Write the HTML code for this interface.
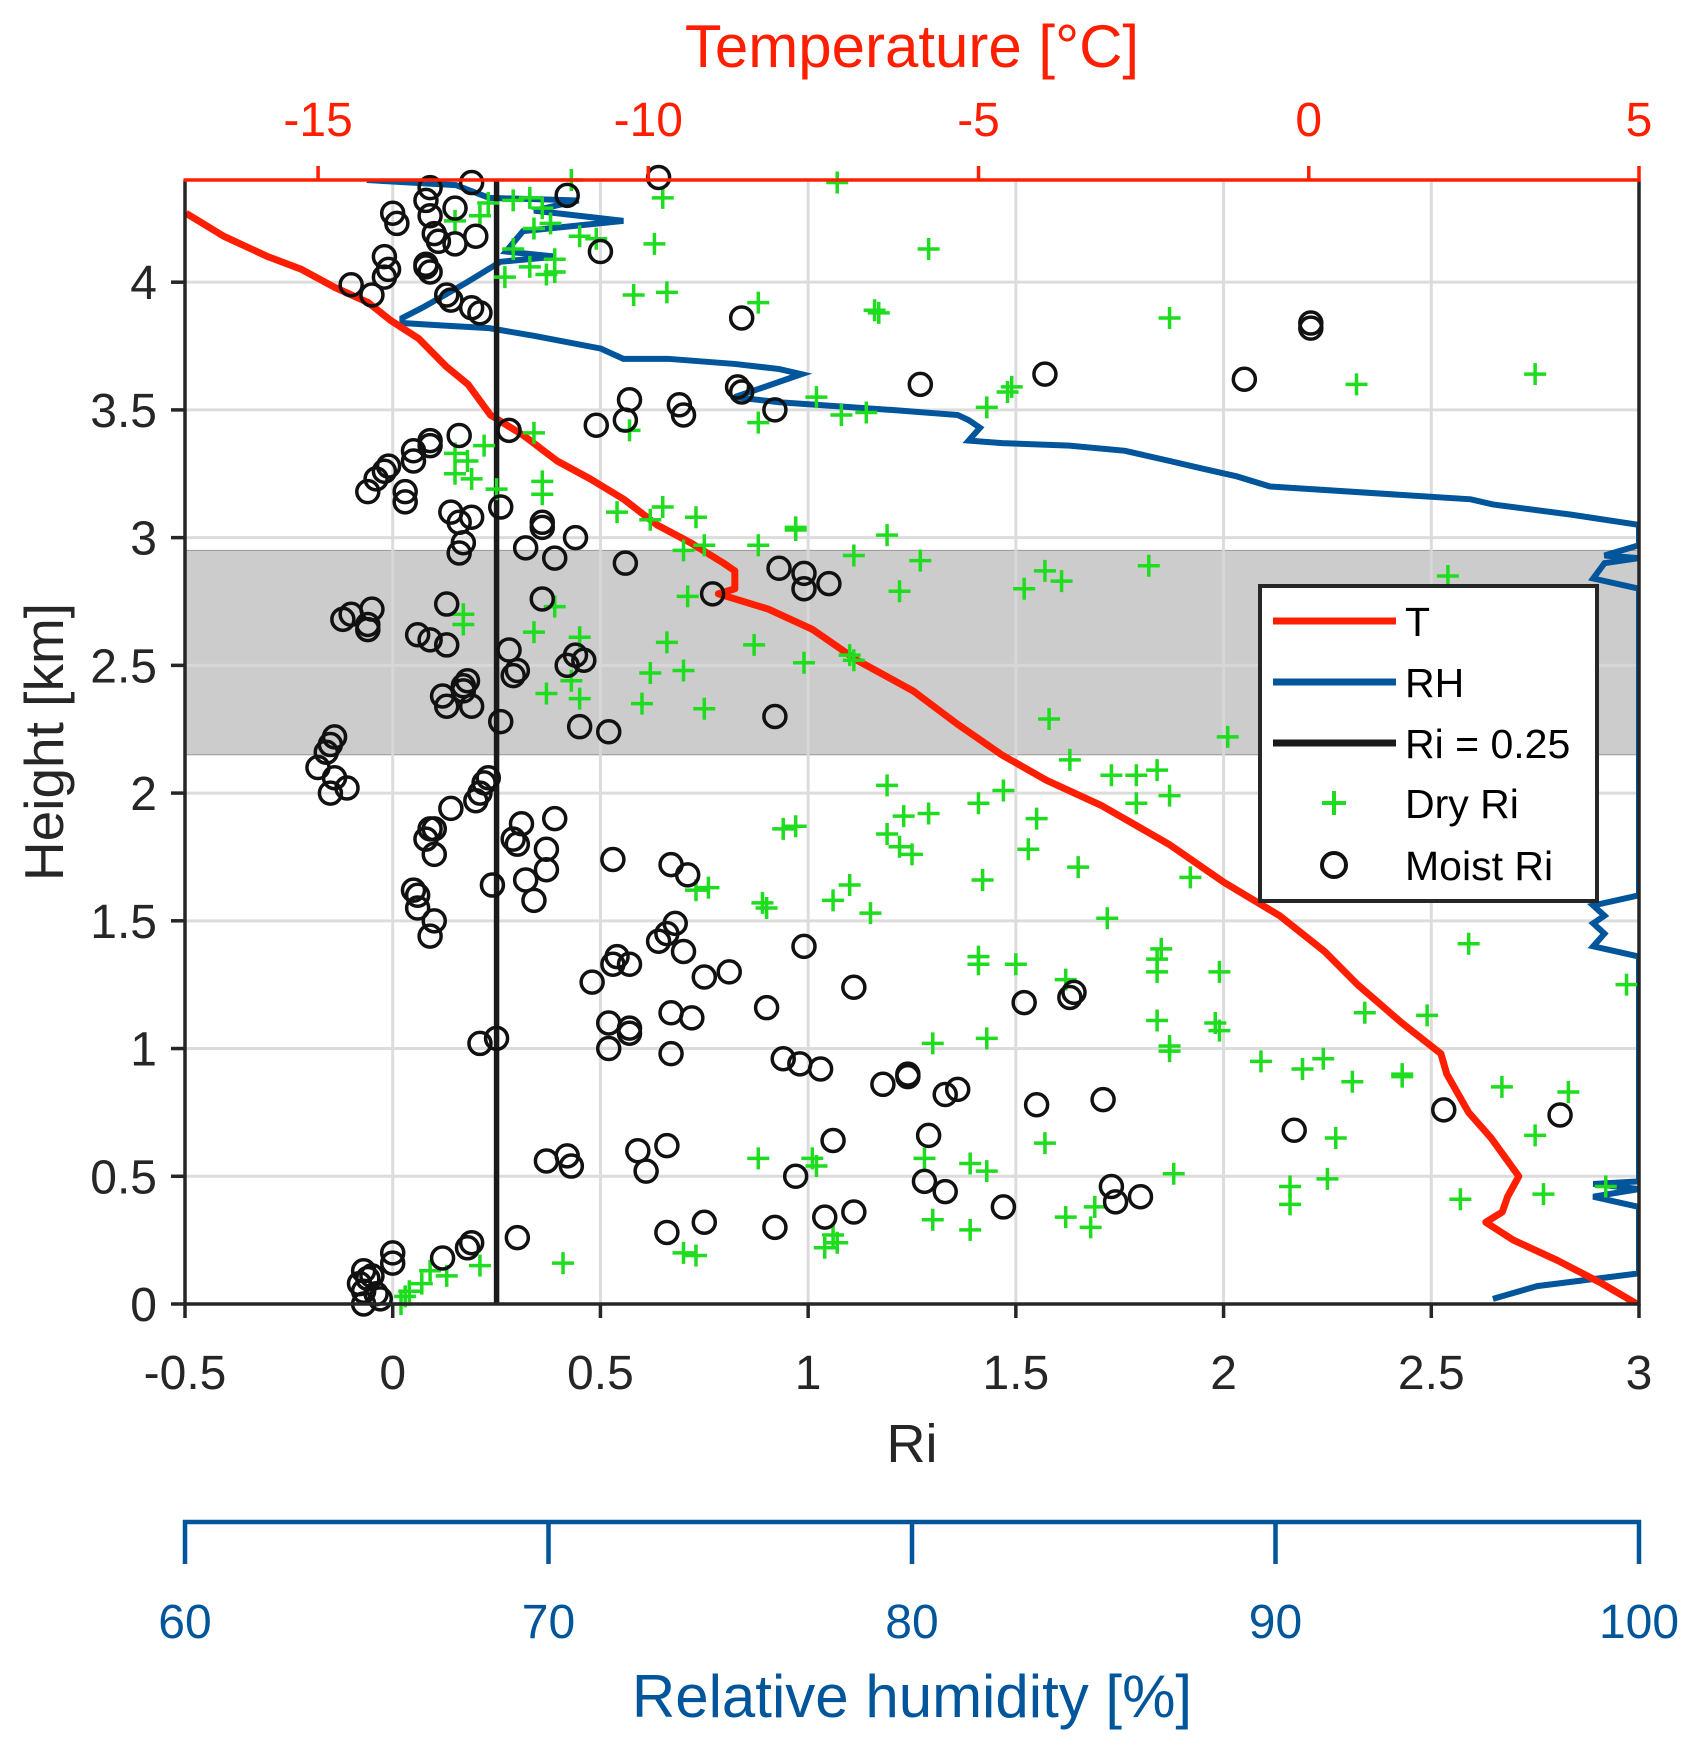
<!DOCTYPE html>
<html><head><meta charset="utf-8"><style>
html,body{margin:0;padding:0;background:#fff;}
svg{display:block;font-family:"Liberation Sans",Arial,sans-serif;}
</style></head><body>
<svg id="chart" width="1700" height="1747" viewBox="0 0 1700 1747" xmlns="http://www.w3.org/2000/svg">
<g id="bg"></g>
</svg>
<script>
// ---- data ----
const riTicks=[-0.5,0,0.5,1,1.5,2,2.5,3];
const riTickLabels=["-0.5","0","0.5","1","1.5","2","2.5","3"];
const hTicks=[0,0.5,1,1.5,2,2.5,3,3.5,4];
const hTickLabels=["0","0.5","1","1.5","2","2.5","3","3.5","4"];
const tTicks=[-15,-10,-5,0,5];
const tTickLabels=["-15","-10","-5","0","5"];
const rhTicks=[60,70,80,90,100];
const rhTickLabels=["60","70","80","90","100"];
const shadeBand=[2.15,2.95];
const riCritical=0.25;
const tempVals=[-17.0,-16.43,-15.76,-15.25,-14.75,-14.24,-13.9,-13.48,-13.06,-12.73,-12.39,-11.89,-11.38,-10.88,-10.37,-9.87,-9.36,-8.86,-8.69,-8.69,-8.94,-8.18,-7.51,-6.84,-5.99,-5.32,-4.65,-3.97,-3.13,-2.12,-1.28,-0.44,0.24,0.74,1.41,2.0,2.09,2.42,2.76,3.18,3.01,2.93,2.68,3.1,3.77,4.44,4.97];
const tempHeights=[4.27,4.18,4.1,4.05,3.98,3.92,3.85,3.78,3.67,3.6,3.48,3.4,3.3,3.23,3.15,3.05,2.98,2.9,2.87,2.8,2.78,2.72,2.64,2.52,2.4,2.27,2.15,2.05,1.95,1.8,1.65,1.52,1.38,1.25,1.1,0.98,0.9,0.75,0.65,0.5,0.42,0.36,0.32,0.25,0.17,0.08,0];
const rhVals=[65.0,67.45,68.37,70.83,69.6,72.06,69.3,68.83,70.2,68.68,67.76,67.15,66.53,65.98,65.98,67.15,68.37,69.6,71.44,72.06,73.28,75.12,76.35,76.96,75.74,75.12,76.35,79.42,81.26,81.56,81.87,81.56,82.48,84.33,85.86,87.09,88.0,88.93,89.85,95.37,95.98,98.13,100,100,99.05,100,99.05,98.74,100,100,98.74,99.05,98.74,99.05,98.74,100,100,98.74,100,98.74,100,100,97.2,95.98];
const rhHeights=[4.40,4.38,4.33,4.32,4.28,4.24,4.20,4.12,4.10,4.08,4.00,3.95,3.90,3.86,3.84,3.83,3.82,3.79,3.74,3.70,3.70,3.68,3.66,3.64,3.58,3.55,3.53,3.50,3.48,3.46,3.43,3.38,3.37,3.36,3.34,3.30,3.27,3.24,3.20,3.15,3.13,3.09,3.05,2.97,2.93,2.92,2.90,2.84,2.80,1.60,1.56,1.52,1.49,1.45,1.40,1.36,0.48,0.47,0.45,0.42,0.38,0.12,0.07,0.02];
const dryRi=[0.43,1.07,0.65,0.23,0.29,0.33,0.36,0.38,0.34,0.15,0.21,0.45,0.49,0.63,0.29,0.39,0.33,0.27,0.39,0.37,0.58,0.66,0.88,1.16,1.17,1.87,1.29,2.75,2.32,1.49,1.48,1.43,1.02,1.14,1.08,0.88,0.57,0.34,0.22,0.15,0.18,0.15,0.19,0.25,0.36,0.36,0.54,0.65,0.62,0.73,0.70,0.75,0.97,0.97,0.88,1.19,1.11,1.27,1.52,1.57,1.61,1.82,2.54,1.22,0.71,0.39,0.17,0.17,0.34,0.45,0.66,0.87,0.99,1.11,1.10,0.70,0.62,0.37,0.43,0.45,0.60,0.75,1.58,2.01,1.63,1.73,1.79,1.84,1.87,1.79,1.47,1.41,1.19,1.29,1.23,1.19,1.22,1.25,0.94,0.97,1.55,1.53,1.65,1.72,1.92,0.73,0.76,0.89,0.90,1.06,1.10,1.15,1.42,1.41,1.41,1.50,1.62,1.85,1.84,1.84,1.99,2.59,2.97,1.84,1.98,1.99,1.87,1.87,2.09,2.24,2.19,2.31,2.43,2.43,2.49,2.34,2.67,2.83,2.75,2.27,1.57,1.43,1.39,1.28,0.88,1.01,1.02,1.88,2.16,2.16,2.25,2.57,2.77,2.92,1.69,1.62,1.68,1.39,1.30,1.06,1.07,1.04,0.70,0.73,0.41,0.21,0.09,0.13,0.07,0.04,0.03,0.02,1.30,1.43];
const dryH=[4.40,4.39,4.33,4.31,4.32,4.33,4.29,4.23,4.21,4.24,4.26,4.18,4.17,4.15,4.13,4.09,4.06,4.02,4.04,4.03,3.95,3.96,3.92,3.89,3.88,3.86,4.13,3.64,3.60,3.59,3.57,3.51,3.55,3.49,3.48,3.45,3.42,3.41,3.36,3.33,3.30,3.25,3.23,3.19,3.22,3.17,3.10,3.12,3.07,3.08,2.95,2.97,3.04,3.03,2.97,3.01,2.93,2.91,2.80,2.87,2.83,2.89,2.85,2.79,2.77,2.73,2.70,2.66,2.63,2.61,2.59,2.58,2.51,2.52,2.54,2.48,2.47,2.39,2.44,2.37,2.35,2.33,2.29,2.22,2.13,2.07,2.07,2.09,1.99,1.96,2.01,1.96,2.03,1.92,1.91,1.84,1.79,1.76,1.86,1.87,1.90,1.78,1.71,1.51,1.67,1.62,1.63,1.57,1.55,1.58,1.64,1.53,1.66,1.36,1.33,1.33,1.27,1.39,1.35,1.30,1.30,1.41,1.25,1.11,1.10,1.07,1.01,0.99,0.95,0.96,0.92,0.87,0.90,0.89,1.13,1.14,0.85,0.83,0.66,0.65,0.63,0.52,0.55,0.57,0.57,0.57,0.54,0.51,0.46,0.39,0.49,0.41,0.43,0.46,0.38,0.34,0.30,0.29,0.33,0.27,0.24,0.22,0.20,0.19,0.16,0.15,0.13,0.11,0.08,0.05,0.03,0.00,1.02,1.04];
const moistRi=[0.19,0.64,0.42,0.09,0.08,0.00,0.01,0.09,0.15,0.10,0.11,0.20,0.08,0.15,-0.02,0.09,-0.01,-0.02,0.08,-0.10,-0.05,0.13,0.14,0.19,0.21,0.50,0.84,2.21,2.21,1.57,1.27,2.05,0.57,0.69,0.70,0.56,0.49,0.83,0.84,0.92,0.28,0.16,0.09,0.09,0.05,0.05,-0.01,-0.02,-0.04,-0.06,0.03,0.03,0.26,0.14,0.19,0.16,0.17,0.16,0.36,0.36,0.44,0.32,0.39,0.56,0.93,0.99,1.05,0.99,0.77,0.36,0.13,-0.12,-0.10,-0.05,-0.06,-0.06,0.06,0.09,0.13,0.28,0.44,0.42,0.46,0.30,0.29,0.18,0.17,0.17,0.12,0.13,0.19,0.26,0.92,0.45,0.52,-0.14,-0.15,-0.16,-0.18,-0.14,-0.11,-0.15,0.23,0.22,0.21,0.20,0.14,0.10,0.39,0.31,0.29,0.30,0.09,0.08,0.10,0.37,0.37,0.24,0.53,0.67,0.71,0.05,0.06,0.06,0.10,0.09,0.34,0.32,0.68,0.66,0.64,0.70,0.99,0.54,0.53,0.57,0.48,0.81,0.75,1.11,1.64,1.63,1.52,0.90,0.67,0.72,0.52,0.57,0.57,0.52,0.67,0.21,0.25,0.94,0.98,1.03,1.18,1.24,1.24,1.33,1.36,1.55,1.71,2.17,2.53,2.81,1.29,1.06,0.59,0.66,0.61,0.37,0.42,0.43,0.97,1.28,1.33,1.73,1.74,1.80,1.47,1.11,1.04,0.92,0.75,0.66,0.30,0.19,0.18,0.12,0.00,0.00,-0.07,-0.05,-0.06,-0.08,-0.07,-0.03,-0.07,-0.04];
const moistH=[4.39,4.41,4.34,4.37,4.32,4.27,4.23,4.26,4.29,4.19,4.16,4.18,4.06,4.15,4.10,4.04,4.05,4.02,4.07,3.99,3.95,3.95,3.93,3.90,3.88,4.12,3.86,3.82,3.84,3.64,3.60,3.62,3.54,3.52,3.48,3.46,3.44,3.59,3.57,3.50,3.42,3.40,3.38,3.36,3.34,3.30,3.28,3.26,3.23,3.18,3.18,3.14,3.12,3.10,3.08,3.06,2.98,2.94,3.06,3.04,3.00,2.96,2.92,2.90,2.88,2.86,2.82,2.80,2.78,2.76,2.74,2.68,2.70,2.72,2.66,2.64,2.62,2.60,2.58,2.56,2.54,2.50,2.52,2.48,2.46,2.44,2.42,2.40,2.38,2.34,2.34,2.28,2.30,2.26,2.24,2.22,2.19,2.16,2.10,2.06,2.02,2.00,2.06,2.04,2.00,1.97,1.94,1.86,1.90,1.88,1.82,1.80,1.86,1.82,1.76,1.78,1.70,1.64,1.74,1.72,1.68,1.62,1.60,1.55,1.50,1.44,1.58,1.66,1.49,1.45,1.42,1.38,1.40,1.36,1.33,1.33,1.26,1.30,1.28,1.24,1.22,1.20,1.18,1.16,1.14,1.12,1.10,1.08,1.06,1.00,0.98,1.02,1.04,0.96,0.94,0.92,0.86,0.90,0.89,0.82,0.84,0.78,0.80,0.68,0.76,0.74,0.66,0.64,0.60,0.62,0.52,0.56,0.58,0.54,0.50,0.48,0.44,0.46,0.40,0.42,0.38,0.36,0.34,0.30,0.32,0.28,0.26,0.24,0.22,0.18,0.20,0.16,0.13,0.11,0.10,0.08,0.05,0.02,0.00,0.04];

// ---- layout / scales ----
const L=185,R=1639,T=180,B=1304;
const xRi=v=>L+(v+0.5)/3.5*(R-L);
const yH=v=>B-v/4.4*(B-T);
const xT=v=>L+(v+17.015)/22.015*(R-L);
const xRH=v=>L+(v-60)/40*(R-L);
const RED="#ff1f00",BLUE="#00559b",GREEN="#1edc1e",DARK="#262626";
const svg=document.getElementById('chart');
const NS="http://www.w3.org/2000/svg";
function mk(tag,attrs,parent){const e=document.createElementNS(NS,tag);for(const k in attrs)e.setAttribute(k,attrs[k]);(parent||svg).appendChild(e);return e;}

const defs=mk('defs',{});
const cp=mk('clipPath',{id:'plotclip'},defs);
mk('rect',{x:L,y:T,width:R-L,height:B-T},cp);

let band=mk('rect',{x:L,y:yH(shadeBand[1]),width:R-L,height:yH(shadeBand[0])-yH(shadeBand[1]),fill:"#cccccc",stroke:"#999",'stroke-width':1});



const grid=mk('g',{stroke:"#d9d9d9",'stroke-width':3,opacity:0.9});


riTicks.forEach(v=>{mk('line',{x1:xRi(v),x2:xRi(v),y1:T,y2:B},grid);});
hTicks.forEach(v=>{mk('line',{x1:L,x2:R,y1:yH(v),y2:yH(v)},grid);});

const plot=mk('g',{'clip-path':'url(#plotclip)'});
let rhPts=rhVals.map((v,i)=>xRH(v)+","+yH(rhHeights[i])).join(" ");
let rhLine=mk('polyline',{points:rhPts,fill:"none",stroke:BLUE,'stroke-width':6,'stroke-linejoin':'miter'},plot);


let tPts=tempVals.map((v,i)=>xT(v)+","+yH(tempHeights[i])).join(" ");
let tLine=mk('polyline',{points:tPts,fill:"none",stroke:RED,'stroke-width':7,'stroke-linejoin':'round'},plot);


let crit=mk('line',{x1:xRi(riCritical),x2:xRi(riCritical),y1:T,y2:B,stroke:"#1a1a1a",'stroke-width':5.5},plot);


const dryG=mk('g',{stroke:GREEN,'stroke-width':3.5});


dryRi.forEach((v,i)=>{const x=xRi(v),y=yH(dryH[i]);
 const p=mk('path',{d:`M${x-11},${y}H${x+11}M${x},${y-11}V${y+11}`},dryG);
 
 });
const moG=mk('g',{stroke:"#111",'stroke-width':3.5,fill:"none"});


moistRi.forEach((v,i)=>{
 const c=mk('circle',{cx:xRi(v),cy:yH(moistH[i]),r:11},moG);
 
 });

const ax=mk('g',{'stroke-width':3.5,fill:"none"});


mk('line',{x1:L,x2:L,y1:T,y2:B+1.5,stroke:DARK},ax);
mk('line',{x1:R,x2:R,y1:T,y2:B+1.5,stroke:DARK},ax);
mk('line',{x1:L,x2:R,y1:B,y2:B,stroke:DARK},ax);
mk('line',{x1:L-1.5,x2:R+1.5,y1:T,y2:T,stroke:RED},ax);
riTicks.forEach(v=>mk('line',{x1:xRi(v),x2:xRi(v),y1:B,y2:B+14,stroke:DARK},ax));
hTicks.forEach(v=>mk('line',{x1:L-14,x2:L,y1:yH(v),y2:yH(v),stroke:DARK},ax));
tTicks.forEach(v=>mk('line',{x1:xT(v),x2:xT(v),y1:T,y2:T-14,stroke:RED},ax));
const rhAx=mk('g',{stroke:BLUE,'stroke-width':4.5,fill:"none"});


mk('line',{x1:L-2,x2:R+2,y1:1522,y2:1522},rhAx);
rhTicks.forEach(v=>mk('line',{x1:xRH(v),x2:xRH(v),y1:1520,y2:1564},rhAx));

function txt(s,x,y,attrs,name){const t=mk('text',Object.assign({x:x,y:y},attrs));t.textContent=s;
 
 return t;}
riTicks.forEach((v,i)=>txt(riTickLabels[i],xRi(v),1389,{'font-size':48,fill:DARK,'text-anchor':'middle'},'x-tick-label'));
hTicks.forEach((v,i)=>txt(hTickLabels[i],157,yH(v)+17,{'font-size':48,fill:DARK,'text-anchor':'end'},'y-tick-label'));
tTicks.forEach((v,i)=>txt(tTickLabels[i],xT(v),136,{'font-size':48,fill:RED,'text-anchor':'middle'},'top-tick-label'));
rhTicks.forEach((v,i)=>txt(rhTickLabels[i],xRH(v),1638,{'font-size':48,fill:BLUE,'text-anchor':'middle'},'rh-tick-label'));
txt("Temperature [°C]",912,67,{'font-size':60,fill:RED,'text-anchor':'middle'},'top-axis-title');
txt("Ri",912,1462,{'font-size':54,fill:DARK,'text-anchor':'middle'},'x-axis-title');
txt("Relative humidity [%]",912,1717,{'font-size':60,fill:BLUE,'text-anchor':'middle'},'rh-axis-title');
txt("Height [km]",0,0,{'font-size':55,fill:DARK,'text-anchor':'middle',transform:'translate(63,742) rotate(-90)'},'y-axis-title');

const lg=mk('g',{});


mk('rect',{x:1260,y:586,width:337,height:315,fill:"#fff",stroke:DARK,'stroke-width':4},lg);
const ly=[621,682,743,803,865];
mk('line',{x1:1273,x2:1396,y1:ly[0],y2:ly[0],stroke:RED,'stroke-width':7},lg);
mk('line',{x1:1273,x2:1396,y1:ly[1],y2:ly[1],stroke:BLUE,'stroke-width':7},lg);
mk('line',{x1:1273,x2:1396,y1:ly[2],y2:ly[2],stroke:"#1a1a1a",'stroke-width':7},lg);
mk('path',{d:`M1322,${ly[3]}H1346M1334,${ly[3]-12}V${ly[3]+12}`,stroke:GREEN,'stroke-width':4},lg);
mk('circle',{cx:1334,cy:ly[4],r:12,fill:"none",stroke:"#111",'stroke-width':4},lg);
["T","RH","Ri = 0.25","Dry Ri","Moist Ri"].forEach((s,i)=>{
 const t=mk('text',{x:1405,y:ly[i]+15,'font-size':41,fill:"#000"},lg);t.textContent=s;
 
 });
</script>
</body></html>
